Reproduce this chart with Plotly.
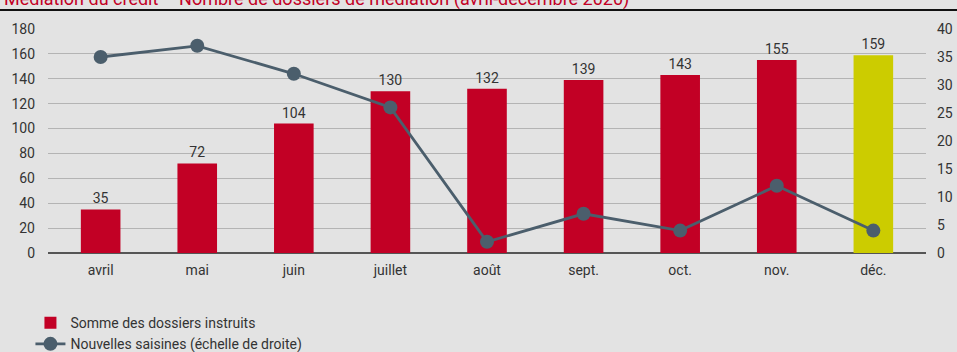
import plotly.graph_objects as go

mois = ["avril", "mai", "juin", "juillet", "août", "sept.", "oct.", "nov.", "déc."]
dossiers_instruits = [35, 72, 104, 130, 132, 139, 143, 155, 159]
nouvelles_saisines = [35, 37, 32, 26, 2, 7, 4, 12, 4]
left_ticks = list(range(0, 181, 20))
right_ticks = list(range(0, 41, 5))

RED = "#c20025"
YELLOW = "#cccc00"
LINE = "#4b5e6c"
BG = "#e3e3e3"
TXT = "#333333"
FONT = "Roboto"

bar_colors = [RED] * (len(mois) - 1) + [YELLOW]

fig = go.Figure()
fig.add_trace(go.Bar(
    x=mois, y=dossiers_instruits,
    name="Somme des dossiers instruits",
    marker=dict(color=bar_colors, line=dict(width=0)),
    text=[str(v) for v in dossiers_instruits],
    textposition="outside",
    textfont=dict(size=14, color=TXT, family=FONT),
    cliponaxis=False,
    width=0.41,
))
fig.add_trace(go.Scatter(
    x=mois, y=nouvelles_saisines,
    name="Nouvelles saisines (échelle de droite)",
    mode="lines+markers",
    line=dict(color=LINE, width=2.8),
    marker=dict(color=LINE, size=14),
    yaxis="y2",
))

fig.update_layout(
    width=957, height=352,
    margin=dict(l=48, r=31, t=29, b=99, autoexpand=False),
    paper_bgcolor=BG, plot_bgcolor=BG,
    font=dict(family=FONT, size=14, color=TXT),
    showlegend=True,
    legend=dict(
        x=-0.02, y=-0.478, xanchor="left", yanchor="bottom",
        bgcolor="rgba(0,0,0,0)", font=dict(size=14, color=TXT),
        tracegroupgap=0, itemwidth=30,
    ),
    xaxis=dict(
        showgrid=False, showline=False, ticks="", automargin=False,
        ticklabelstandoff=7,
        tickfont=dict(size=14, color=TXT),
    ),
    yaxis=dict(
        range=[0, 180], tickvals=left_ticks, automargin=False,
        showgrid=True, gridcolor="#b4b4b4", gridwidth=1.2,
        zeroline=True, zerolinecolor="#555555", zerolinewidth=1.5,
        ticks="", ticklabelstandoff=12,
        tickfont=dict(size=14, color=TXT),
    ),
    yaxis2=dict(
        range=[0, 40], tickvals=right_ticks, automargin=False,
        overlaying="y", side="right",
        showgrid=False, zeroline=False, ticks="", ticklabelstandoff=10,
        tickfont=dict(size=14, color=TXT),
    ),
    shapes=[dict(
        type="line", xref="paper", yref="paper",
        x0=-0.06, x1=1.04, y0=1.085, y1=1.085,
        line=dict(color="#111111", width=2),
    )],
    annotations=[dict(
        text="Médiation du crédit – Nombre de dossiers de médiation (avril-décembre 2020)",
        xref="paper", yref="paper", x=-0.052, y=1.135,
        xanchor="left", yanchor="middle", showarrow=False,
        font=dict(size=18, color=RED, family=FONT),
    )],
)

fig.write_html("out.html")
